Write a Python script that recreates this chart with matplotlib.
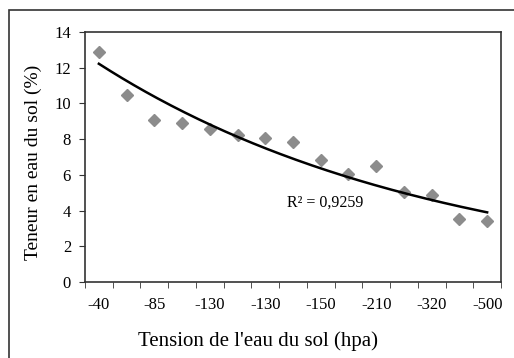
import numpy as np
import matplotlib
matplotlib.use('Agg')
import matplotlib.pyplot as plt
from matplotlib.patches import Rectangle

plt.rcParams['font.family'] = ['Liberation Serif', 'DejaVu Serif']

tension_labels = ['-40', '', '-85', '', '-130', '', '-130', '', '-150', '', '-210', '', '-320', '', '-500']
teneur = [12.9, 10.5, 9.05, 8.92, 8.57, 8.23, 8.04, 7.86, 6.83, 6.03, 6.51, 5.04, 4.89, 3.51, 3.42]
r2_text = 'R² = 0,9259'

x = np.arange(len(teneur))
# exponential trendline (Excel style), fitted on the category index 1..n
b, a = np.polyfit(x + 1, np.log(teneur), 1)
xs = np.linspace(0, len(teneur) - 1, 200)
trend = np.exp(a) * np.exp(b * (xs + 1))

fig = plt.figure(figsize=(5.14, 3.58), dpi=100)
fig.patches.append(Rectangle((9 / 514, -0.1), 1.2, 1 - 10 / 358 + 0.1,
                             transform=fig.transFigure, fill=False,
                             edgecolor='#333333', lw=1.2))

ax = fig.add_axes([85 / 514, 1 - 282 / 358, 416 / 514, 250 / 358])
ax.plot(x, teneur, linestyle='none', marker='D', markersize=6.5,
        color='#8c8c8c', markeredgecolor='#8c8c8c')
ax.plot(xs, trend, color='black', lw=1.8)
ax.text(6.8, 4.42, r2_text, fontsize=11.5, va='center', ha='left')

ax.set_xlim(-0.5, len(teneur) - 0.5)
ax.set_ylim(0, 14)
ax.set_yticks(np.arange(0, 15, 2))
ax.set_xticks(x)
ax.set_xticklabels(tension_labels)
ax.set_xticks(np.arange(-0.5, len(teneur)), minor=True)
ax.tick_params(axis='x', which='major', length=0, pad=11, labelsize=12)
ax.tick_params(axis='x', which='minor', length=4, color='#333333')
ax.tick_params(axis='y', length=4, color='#333333', labelsize=12, pad=6)

for s in ax.spines.values():
    s.set_color('#333333')
    s.set_linewidth(1.2)

fig.text(33 / 514, 1 - 162 / 358, 'Teneur en eau du sol (%)', fontsize=14,
         rotation=90, ha='center', va='center')
fig.text(258 / 514, 1 - 341 / 358, "Tension de l'eau du sol (hpa)", fontsize=15,
         ha='center', va='center')

fig.savefig('out.png', dpi=100)
